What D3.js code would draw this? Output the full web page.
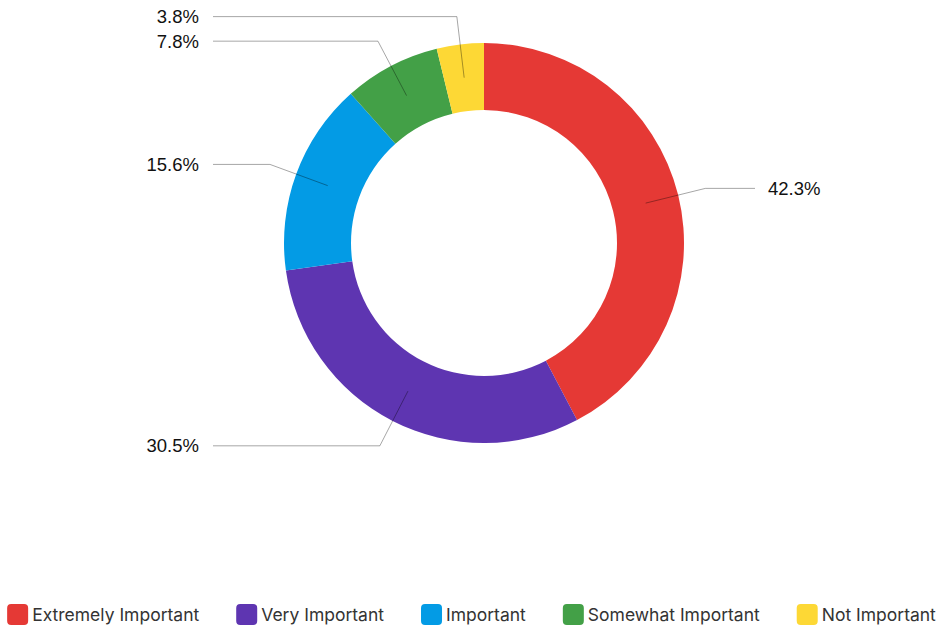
<!DOCTYPE html>
<html>
<head>
<meta charset="utf-8">
<script src="https://cdn.jsdelivr.net/npm/d3@7"></script>
<style>
  html, body { margin: 0; padding: 0; background: #fff; }
  svg { display: block; }
</style>
</head>
<body>
<svg id="chart" width="943" height="631"></svg>
<script>
// Share of respondents by importance rating
const categories = ["Extremely Important", "Very Important", "Important", "Somewhat Important", "Not Important"];
const shares = [42.3, 30.5, 15.6, 7.8, 3.8];
const colors = ["#E53935", "#5E35B1", "#039BE5", "#43A047", "#FDD835"];

const width = 943, height = 631;
const cx = 484, cy = 243;
const outerR = 200, innerR = 133;
const midR = (outerR + innerR) / 2;
const elbowR = 228;

const svg = d3.select("#chart");
const data = categories.map((c, i) => ({ name: c, value: shares[i], color: colors[i] }));

const pie = d3.pie().sort(null).value(d => d.value);
const arcs = pie(data);
const arc = d3.arc().innerRadius(innerR).outerRadius(outerR);

const g = svg.append("g").attr("transform", `translate(${cx},${cy})`);

g.selectAll("path.slice")
  .data(arcs)
  .join("path")
  .attr("class", "slice")
  .attr("d", arc)
  .attr("fill", d => d.data.color);

// Leader lines: from the ring's middle, out along the slice angle, then horizontal
const pt = (r, a) => [r * Math.sin(a), -r * Math.cos(a)];
const leftEnd = 213 - cx, rightEnd = 755 - cx;

arcs.forEach(d => {
  const a = (d.startAngle + d.endAngle) / 2;
  const p0 = pt(midR, a);
  const p1 = pt(elbowR, a);
  const right = Math.sin(a) > 0;
  const p2 = [right ? rightEnd : leftEnd, p1[1]];
  g.append("polyline")
    .attr("points", [p0, p1, p2].map(p => p.join(",")).join(" "))
    .attr("fill", "none")
    .attr("stroke", "#000")
    .attr("stroke-opacity", 0.35)
    .attr("stroke-width", 1);
  g.append("text")
    .attr("x", right ? p2[0] + 13 : p2[0] - 14)
    .attr("y", p2[1])
    .attr("dy", "0.36em")
    .attr("text-anchor", right ? "start" : "end")
    .attr("font-family", "'Liberation Sans', Arial, sans-serif")
    .attr("font-size", 18.5)
    .attr("fill", "#111")
    .text(d3.format(".1f")(d.data.value) + "%");
});

// Legend along the bottom, centered
const legend = svg.append("g");
const sw = 21, swGap = 4, itemGap = 37, legendY = 604;
const items = legend.selectAll("g.item")
  .data(data)
  .join("g")
  .attr("class", "item");

items.append("rect")
  .attr("width", sw).attr("height", sw)
  .attr("rx", 4).attr("ry", 4)
  .attr("y", legendY)
  .attr("fill", d => d.color);

items.append("text")
  .attr("x", sw + swGap)
  .attr("y", legendY + sw / 2)
  .attr("dy", "0.36em")
  .attr("font-family", "Inter, Roboto, sans-serif")
  .attr("font-size", 17.5)
  .attr("fill", "#333")
  .text(d => d.name);

const widths = [];
items.each(function() {
  widths.push(sw + swGap + this.querySelector("text").getComputedTextLength());
});
const total = d3.sum(widths) + itemGap * (widths.length - 1);
let x0 = (width - total) / 2;
items.attr("transform", (d, i) => {
  const t = `translate(${x0},0)`;
  x0 += widths[i] + itemGap;
  return t;
});
</script>
</body>
</html>
